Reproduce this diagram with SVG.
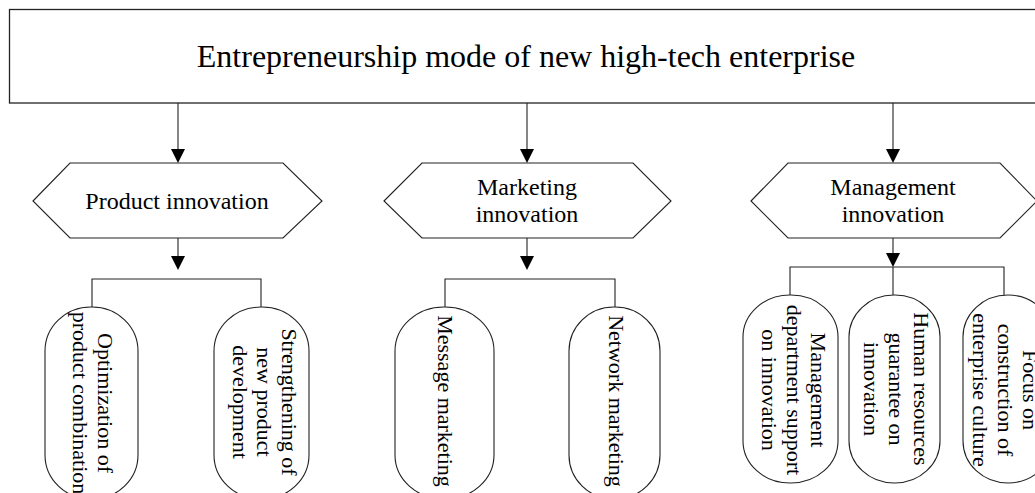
<svg xmlns="http://www.w3.org/2000/svg" width="1035" height="493" viewBox="0 0 1035 493">
<style>
.box{fill:#fff;stroke:#222;stroke-width:1.3}
.hex{fill:#fff;stroke:#222;stroke-width:1.1}
.pill{fill:#fff;stroke:#222;stroke-width:1.1}
.ln{fill:none;stroke:#222;stroke-width:1.1}
.t{font-family:"Liberation Serif","Times New Roman",serif;fill:#000;text-anchor:middle}
.t32{font-size:32px}
.t24{font-size:24px}
.t22{font-size:22px}
</style>
<defs>
<marker id="ah" markerUnits="userSpaceOnUse" markerWidth="14" markerHeight="15" refX="7" refY="14" orient="auto-start-reverse" viewBox="0 0 14 15">
<path d="M0,0 L14,0 L7,14 Z" fill="#000" transform="rotate(0)"/>
</marker>
</defs>
<rect width="1035" height="493" fill="#fff"/>

<g id="connectors">
<line class="ln" x1="178" y1="103" x2="178" y2="149"/>
<path d="M171,149 L185,149 L178,163 Z" fill="#000"/>
<line class="ln" x1="527" y1="103" x2="527" y2="149"/>
<path d="M520,149 L534,149 L527,163 Z" fill="#000"/>
<line class="ln" x1="893" y1="103" x2="893" y2="149"/>
<path d="M886,149 L900,149 L893,163 Z" fill="#000"/>

<line class="ln" x1="178" y1="238" x2="178" y2="256"/>
<path d="M171,256 L185,256 L178,270 Z" fill="#000"/>
<line class="ln" x1="527" y1="238" x2="527" y2="256"/>
<path d="M520,256 L534,256 L527,270 Z" fill="#000"/>
<line class="ln" x1="893" y1="238" x2="893" y2="253"/>
<path d="M886,253 L900,253 L893,267 Z" fill="#000"/>

<polyline class="ln" points="92,307 92,279 261,279 261,307"/>
<polyline class="ln" points="445,307 445,279 615,279 615,307"/>
<polyline class="ln" points="790,295 790,267 1004,267 1004,295"/>
<line class="ln" x1="893" y1="267" x2="893" y2="295"/>
</g>

<g id="root">
<rect class="box" x="9.5" y="9.5" width="1040" height="93.5"/>
<text class="t t32" x="526" y="67">Entrepreneurship mode of new high-tech enterprise</text>
</g>

<g id="product-innovation">
<polygon class="hex" points="33,201 70,163 283,163 322,201 283,238 70,238"/>
<text class="t t24" x="177" y="209">Product innovation</text>
</g>
<g id="marketing-innovation">
<polygon class="hex" points="384,201 422,163 633,163 671,201 633,238 422,238"/>
<text class="t t24" x="527" y="195">Marketing</text>
<text class="t t24" x="527" y="222">innovation</text>
</g>
<g id="management-innovation">
<polygon class="hex" points="751,201 788,163 1000,163 1037,201 1000,238 788,238"/>
<text class="t t24" x="893" y="195">Management</text>
<text class="t t24" x="893" y="222">innovation</text>
</g>

<g id="optimization">
<rect class="pill" x="45" y="307" width="93" height="192" rx="46" ry="44"/>
<text class="t t22" transform="translate(92,403) rotate(90)"><tspan x="0" y="-6">Optimization of</tspan><tspan x="0" y="19">product combination</tspan></text>
</g>
<g id="strengthening">
<rect class="pill" x="214" y="307" width="95" height="192" rx="47" ry="44"/>
<text class="t t22" transform="translate(261.5,402) rotate(90)"><tspan x="0" y="-20">Strengthening of</tspan><tspan x="0" y="4.5">new product</tspan><tspan x="0" y="29">development</tspan></text>
</g>
<g id="message-marketing">
<rect class="pill" x="395" y="307" width="99" height="192" rx="49" ry="44"/>
<text class="t t22" transform="translate(445,401) rotate(90)" y="7">Message marketing</text>
</g>
<g id="network-marketing">
<rect class="pill" x="569" y="307" width="91" height="192" rx="45" ry="44"/>
<text class="t t22" transform="translate(615,401) rotate(90)" y="6">Network marketing</text>
</g>
<g id="management-support">
<rect class="pill" x="743" y="295" width="95" height="188" rx="47" ry="42"/>
<text class="t t22" transform="translate(790,390) rotate(90)"><tspan x="0" y="-21">Management</tspan><tspan x="0" y="3.5">department support</tspan><tspan x="0" y="28">on innovation</tspan></text>
</g>
<g id="human-resources">
<rect class="pill" x="849" y="295" width="91" height="188" rx="45" ry="42"/>
<text class="t t22" transform="translate(894,389) rotate(90)"><tspan x="0" y="-20">Human resources</tspan><tspan x="0" y="5">guarantee on</tspan><tspan x="0" y="30">innovation</tspan></text>
</g>
<g id="enterprise-culture">
<rect class="pill" x="963" y="295" width="90" height="188" rx="45" ry="42"/>
<text class="t t22" transform="translate(1004,390) rotate(90)"><tspan x="0" y="-19">Focus on</tspan><tspan x="0" y="6">construction of</tspan><tspan x="0" y="31">enterprise culture</tspan></text>
</g>
</svg>
